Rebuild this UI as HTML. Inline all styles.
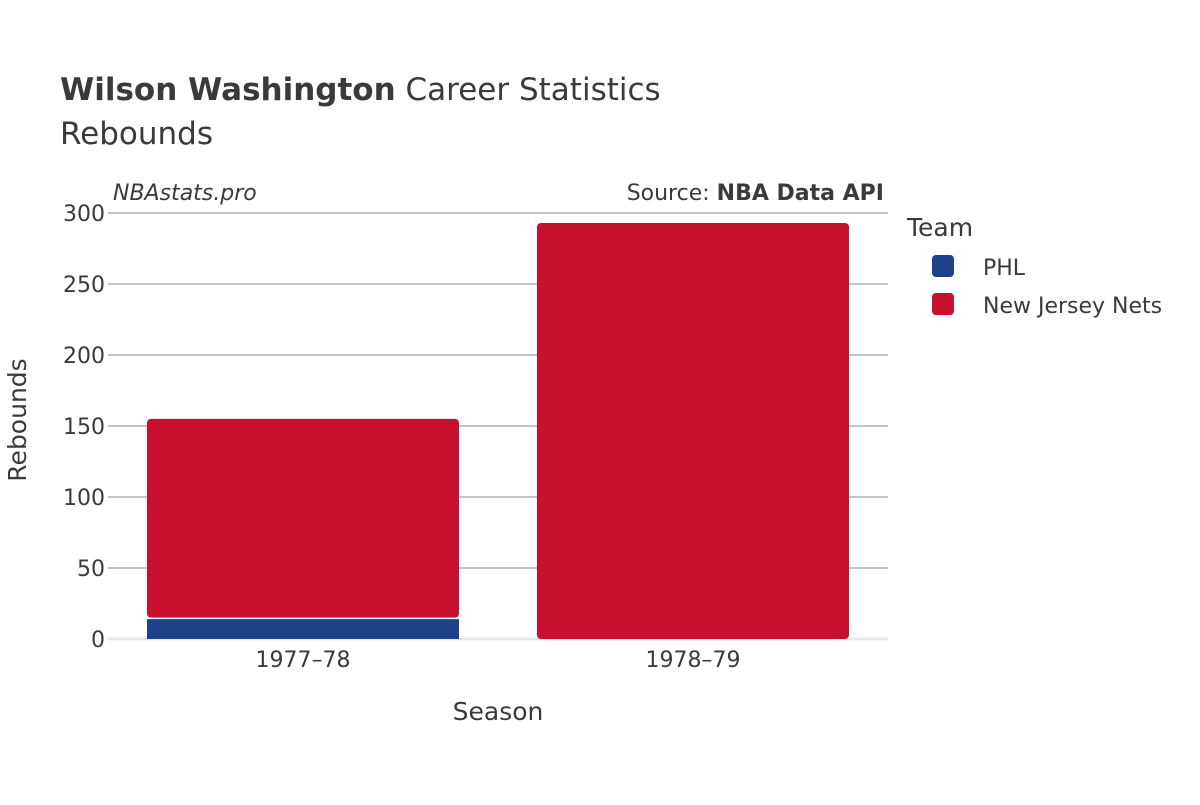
<!DOCTYPE html>
<html><head><meta charset="utf-8"><style>
body{margin:0;background:#fff;}
svg text{font-family:"DejaVu Sans","Liberation Sans",sans-serif;fill:#3a3a3a;}
</style></head><body>
<svg id="chart" width="1200" height="800" xmlns="http://www.w3.org/2000/svg">
<text x="60" y="100" font-size="31"><tspan font-weight="bold">Wilson Washington</tspan> Career Statistics</text>
<text x="60" y="144" font-size="31">Rebounds</text>
<text x="113" y="200" font-size="22" font-style="italic">NBAstats.pro</text>
<text x="884" y="200" font-size="22" text-anchor="end">Source: <tspan font-weight="bold">NBA Data API</tspan></text>
<g id="grid"></g>
<g id="bars"></g>
<g id="xticks"></g>
<text x="498" y="720" font-size="25" text-anchor="middle">Season</text>
<text transform="translate(26,420) rotate(-90)" font-size="25" text-anchor="middle">Rebounds</text>
<text x="907" y="236" font-size="25">Team</text>
<g><rect x="932" y="255" width="22" height="22" rx="4" fill="#1d428a"/><text x="983" y="275" font-size="22">PHL</text></g>
<g><rect x="932" y="293" width="22" height="22" rx="4" fill="#c8102e"/><text x="983" y="313" font-size="22">New Jersey Nets</text></g>
</svg>
<script>
const seasons=["1977–78","1978–79"];
const phl=[14,0];
const njn=[141,293];
const yTicks=[0,50,100,150,200,250,300];
const NS="http://www.w3.org/2000/svg";
const x0=108,x1=888,y0=639,y1=213,yMax=300;
const y=v=>y0-(v/yMax)*(y0-y1);
const band=(x1-x0)/seasons.length;
const grid=document.getElementById('grid'),bars=document.getElementById('bars'),xt=document.getElementById('xticks');
function mk(t,a,p){const e=document.createElementNS(NS,t);for(const k in a)e.setAttribute(k,a[k]);p.appendChild(e);return e;}
yTicks.forEach(v=>{
  const l=mk('line',{x1:x0,x2:x1,y1:y(v),y2:y(v),stroke:v===0?'#e8e8e8':'#8a8a8a','stroke-width':v===0?3:1},grid);
  
  
  const t=mk('text',{x:x0-3,y:y(v)+8,'font-size':22,'text-anchor':'end'},grid);
  t.textContent=v;
  
  
});
seasons.forEach((s,i)=>{
  const bx=x0+band*i+band*0.1,bw=band*0.8;
  if(phl[i]>0){
    const r=mk('rect',{x:bx,y:y(phl[i]),width:bw,height:y0-y(phl[i]),fill:'#1d428a'},bars);
    
    
  }
  const top=phl[i]+njn[i];
  const r2=mk('rect',{x:bx,y:y(top),width:bw,height:y(phl[i])-y(top)-(phl[i]>0?1.5:0),fill:'#c8102e',rx:4},bars);
  
  
  const t=mk('text',{x:x0+band*(i+0.5),y:667,'font-size':22,'text-anchor':'middle'},xt);
  t.textContent=s;
  
  
});
</script>
</body></html>
